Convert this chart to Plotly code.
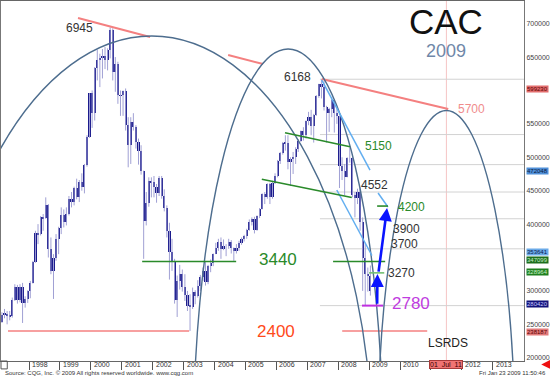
import plotly.graph_objects as go

# ---------------- data (monthly CAC 40) ----------------
start_year, start_month = 1997, 2
opens = [2540, 2640, 2655, 2630, 2620, 2870, 3060, 2860, 3060, 2820, 2880,
         2999, 3120, 3430, 3870, 3850, 4100, 4090, 4280, 3620, 3300, 3500, 3780,
         3942, 4130, 4030, 4150, 4380, 4330, 4540, 4410, 4630, 4560, 4880, 5300,
         5958, 5660, 6330, 6460, 6480, 6520, 6450, 6600, 6910, 6270, 6400, 5930,
         5926, 5990, 5480, 5180, 5530, 5460, 5230, 5090, 4800, 4050, 4310, 4650,
         4624, 4560, 4460, 4690, 4420, 4240, 3900, 3580, 3440, 2860, 3150, 3260,
         3064, 2940, 2780, 2760, 2990, 2920, 3080, 3210, 3300, 3140, 3380, 3420,
         3558, 3640, 3730, 3630, 3670, 3670, 3730, 3640, 3600, 3640, 3710, 3780,
         3821, 3910, 4030, 4070, 3910, 4120, 4230, 4450, 4400, 4600, 4400, 4620,
         4715, 4950, 5070, 5220, 5210, 4930, 4970, 5010, 5130, 5250, 5400, 5330,
         5542, 5610, 5470, 5630, 5920, 6100, 6050, 5750, 5660, 5720, 5850, 5670,
         5614, 4870, 4790, 4710, 4990, 4990, 4430, 4390, 4480, 4030, 3490, 3260,
         3218]
highs = [2680, 2730, 2700, 2700, 2900, 3100, 3090, 3100, 3120, 2920, 3010,
         3150, 3450, 3900, 4000, 4120, 4150, 4400, 4300, 3800, 3550, 3850, 3960,
         4250, 4220, 4250, 4420, 4480, 4560, 4680, 4660, 4760, 4900, 5330, 5960,
         6000, 6350, 6610, 6550, 6620, 6650, 6630, 6945, 6930, 6500, 6430, 6000,
         6000, 6030, 5600, 5600, 5660, 5480, 5280, 5180, 4800, 4480, 4700, 4700,
         4720, 4600, 4720, 4720, 4520, 4280, 4020, 3780, 3480, 3230, 3390, 3320,
         3250, 3000, 2950, 3050, 3010, 3160, 3240, 3350, 3440, 3390, 3470, 3560,
         3720, 3780, 3800, 3770, 3700, 3780, 3760, 3650, 3700, 3750, 3800, 3840,
         3930, 4070, 4100, 4110, 4130, 4240, 4460, 4480, 4610, 4620, 4650, 4760,
         4960, 5080, 5230, 5330, 5330, 5000, 5080, 5150, 5270, 5400, 5450, 5550,
         5680, 5710, 5650, 5930, 6100, 6168, 6140, 5770, 5740, 5900, 5870, 5720,
         5620, 5000, 4900, 5000, 5140, 5000, 4480, 4530, 4550, 4100, 3720, 3350,
         3380]
lows = [2520, 2590, 2500, 2560, 2600, 2850, 2810, 2830, 2520, 2750, 2820,
        2890, 3110, 3420, 3700, 3830, 3900, 4080, 3500, 3250, 2880, 3450, 3550,
        3850, 3950, 3980, 4130, 4250, 4280, 4370, 4330, 4500, 4460, 4860, 5290,
        5440, 5550, 6150, 6050, 6180, 6320, 6300, 6480, 6150, 5980, 5800, 5620,
        5620, 5400, 4850, 4900, 5400, 5130, 4890, 4740, 3480, 3980, 4260, 4400,
        4400, 4320, 4420, 4380, 4190, 3800, 3170, 3300, 2810, 2610, 3020, 2990,
        2850, 2700, 2401, 2730, 2800, 2900, 3000, 3150, 3080, 3100, 3280, 3370,
        3550, 3600, 3480, 3610, 3520, 3630, 3560, 3450, 3560, 3600, 3690, 3740,
        3780, 3900, 3980, 3860, 3900, 4090, 4220, 4300, 4380, 4300, 4380, 4600,
        4700, 4900, 5040, 5100, 4820, 4570, 4750, 4900, 5080, 5230, 5250, 5280,
        5480, 5330, 5220, 5620, 5890, 5880, 5700, 5220, 5380, 5600, 5370, 5500,
        4540, 4660, 4430, 4700, 4920, 4400, 4100, 4300, 3900, 3000, 2780, 2990,
        2930]
closes = [2640, 2655, 2630, 2620, 2870, 3060, 2860, 3060, 2820, 2880, 2999,
          3120, 3430, 3870, 3850, 4100, 4090, 4280, 3620, 3300, 3500, 3780, 3942,
          4130, 4030, 4150, 4380, 4330, 4540, 4410, 4630, 4560, 4880, 5300, 5958,
          5660, 6330, 6460, 6480, 6520, 6450, 6600, 6910, 6270, 6400, 5930, 5926,
          5990, 5480, 5180, 5530, 5460, 5230, 5090, 4800, 4050, 4310, 4650, 4624,
          4560, 4460, 4690, 4420, 4240, 3900, 3580, 3440, 2860, 3150, 3260, 3064,
          2940, 2780, 2760, 2990, 2920, 3080, 3210, 3300, 3140, 3380, 3420, 3558,
          3640, 3730, 3630, 3670, 3670, 3730, 3640, 3600, 3640, 3710, 3780, 3821,
          3910, 4030, 4070, 3910, 4120, 4230, 4450, 4400, 4600, 4400, 4620, 4715,
          4950, 5070, 5220, 5210, 4930, 4970, 5010, 5130, 5250, 5400, 5330, 5542,
          5610, 5470, 5630, 5920, 6100, 6050, 5750, 5660, 5720, 5850, 5670, 5614,
          4870, 4790, 4710, 4990, 4990, 4430, 4390, 4480, 4030, 3490, 3260, 3218,
          3000]

years = list(range(1998, 2014))
year_labels = [str(y) for y in years]

# cycle arcs: centre (decimal year), half width (years), top price, base price
arc_center = [2001.97, 2006.38, 2011.50]
arc_halfwidth = [7.12, 3.07, 2.22]
arc_peak = [6815, 6620, 5700]
arc_base = [649, 619, 630]

# trend lines (t0, p0, t1, p1)
red_lines = [(1999.585, 7084, 2001.915, 6800), (2004.44, 6530, 2005.57, 6396),
             (2007.47, 6171, 2011.56, 5722)]
blue_lines = [(2007.47, 6156, 2009.03, 4809), (2009.29, 4465, 2009.61, 4256),
              (2007.955, 4510, 2009.09, 3530)]
green_lines = [(2006.28, 5368, 2008.385, 5158), (2005.53, 4670, 2008.44, 4398),
               (2001.66, 3440, 2004.70, 3440), (2007.835, 3440, 2009.52, 3440),
               (2009.26, 4270, 2009.61, 4270)]
light_green_lines = [(2009.0, 3270, 2009.49, 3270)]
purple_lines = [(2008.77, 2780, 2009.45, 2780)]
salmon_flat = [(1997.32, 2400, 2003.18, 2400), (2008.13, 2400, 2010.88, 2400)]
fib_levels = [6168, 5340, 4890, 4480, 4080, 3630, 2780]
fib_start = 2007.41
cycle_date = 2011.50

# arrows (tail t, tail p, head t, head p)
arrows = [(2009.26, 2785, 2009.27, 3253), (2009.30, 3265, 2009.58, 4240)]

# price labels (text, t, p, colour, size)
labels = [("6945", 1999.62, 6935, "#333333", 12),
          ("6168", 2006.70, 6200, "#333333", 12),
          ("4552", 2009.19, 4585, "#333333", 12),
          ("3900", 2010.20, 3930, "#333333", 12),
          ("3700", 2010.13, 3705, "#333333", 12),
          ("3270", 2010.04, 3270, "#333333", 12),
          ("LSRDS", 2011.56, 2222, "#222222", 12),
          ("5150", 2009.29, 5170, "#2a8a2a", 12),
          ("4200", 2010.36, 4256, "#2a8a2a", 12),
          ("3440", 2006.06, 3477, "#2a8a2a", 17),
          ("2400", 2005.99, 2400, "#ff4a1a", 17),
          ("2780", 2010.36, 2805, "#c03ce0", 17),
          ("5700", 2012.30, 5722, "#f08c8c", 12)]

# right-hand value markers
marker_vals = [6020, 4800, 3575, 3462, 3290, 2804, 2382]
marker_text = ["599230", "472048", "353641", "347099", "328964", "280420", "238187"]
marker_bg = ["#e26d6d", "#4f8fd8", "#6aaae8", "#1d6e1d", "#1f7f1f", "#12127a", "#e27a7a"]
marker_fg = ["#5a0000", "#0a1a40", "#0a1a50", "#c8f0c8", "#c8f0c8", "#c8c8ff", "#5a0000"]

y_ticks = [2000, 2500, 3000, 4000, 4500, 5000, 5500, 6500, 7000]

# ---------------- figure ----------------
months = []
yy, mm = start_year, start_month
for _ in range(len(closes)):
    months.append((yy, mm))
    mm += 1
    if mm > 12:
        mm = 1
        yy += 1
t = [a + (b - 0.5) / 12 for a, b in months]

XR = [1997.094, 2014.01]
YR = [1951, 7339]

fig = go.Figure()
wx, wy = [], []
for ti, h, l in zip(t, highs, lows):
    wx += [ti, ti, None]
    wy += [l, h, None]
fig.add_trace(go.Scatter(x=wx, y=wy, mode="lines", line=dict(color="#a0a0d4", width=1),
                         hoverinfo="skip", showlegend=False))
fig.add_trace(go.Bar(x=t, base=[min(o, c) for o, c in zip(opens, closes)],
                     y=[abs(c - o) for o, c in zip(opens, closes)], width=0.07,
                     marker=dict(color="#1b1b8c", line=dict(width=0)),
                     hoverinfo="skip", showlegend=False))

shapes = []
for lv in fib_levels:
    shapes.append(dict(type="line", xref="x", yref="y", x0=fib_start, x1=XR[1], y0=lv, y1=lv,
                       line=dict(color="#d2d2d2", width=1), layer="below"))
shapes.append(dict(type="line", xref="x", yref="paper", x0=cycle_date, x1=cycle_date, y0=0, y1=1,
                   line=dict(color="#f5c4c4", width=1), layer="below"))

def seg(lst, color, width):
    for t0, p0, t1, p1 in lst:
        shapes.append(dict(type="line", xref="x", yref="y", x0=t0, y0=p0, x1=t1, y1=p1,
                           line=dict(color=color, width=width), layer="above"))

seg(salmon_flat, "#f48080", 1.6)
seg(red_lines, "#f48080", 2)
for c, a, pk, b in zip(arc_center, arc_halfwidth, arc_peak, arc_base):
    shapes.append(dict(type="circle", xref="x", yref="y", x0=c - a, x1=c + a,
                       y0=b - (pk - b), y1=pk, line=dict(color="#4d6d8e", width=1.4),
                       layer="above"))
seg(blue_lines, "#62aef0", 1.5)
seg(green_lines, "#2a8a2a", 1.6)
seg(light_green_lines, "#72c072", 1.6)
seg(purple_lines, "#c030e0", 2)

# small box at left end of the time axis
shapes.append(dict(type="rect", xref="paper", yref="paper", x0=0, x1=0.012, y0=-0.022, y1=0,
                   line=dict(color="#555555", width=1)))

ann = []
for txt, tx, py, col, sz in labels:
    ann.append(dict(x=tx, y=py, xref="x", yref="y", text=txt, showarrow=False,
                    xanchor="center", yanchor="middle", font=dict(color=col, size=sz)))
for t0, p0, t1, p1 in arrows:
    ann.append(dict(x=t1, y=p1, ax=t0, ay=p0, xref="x", yref="y", axref="x", ayref="y",
                    text="", showarrow=True, arrowhead=2, arrowsize=1, arrowwidth=2.6,
                    arrowcolor="#0a14ff", standoff=0, startstandoff=0))
for v, txt, bg, fg in zip(marker_vals, marker_text, marker_bg, marker_fg):
    ann.append(dict(x=1, y=v, xref="paper", yref="y", xanchor="left", yanchor="middle", xshift=2,
                    text=txt, showarrow=False, bgcolor=bg, borderpad=0,
                    font=dict(color=fg, size=6)))
for yv, lab in zip(years, year_labels):
    if yv == 2011:
        continue
    ann.append(dict(x=yv, y=-0.0097, xref="x", yref="paper", xanchor="left", xshift=1,
                    yanchor="middle", text=lab, showarrow=False,
                    font=dict(color="#333333", size=7)))
ann.append(dict(x=cycle_date, y=-0.0105, xref="x", yref="paper", xanchor="center",
                yanchor="middle", text="01  Jul  11", showarrow=False, bgcolor="#f07474",
                bordercolor="#a83a3a", borderwidth=1, borderpad=0,
                font=dict(color="#3a0000", size=7)))
ann.append(dict(x=0.851, y=0.944, xref="paper", yref="paper", xanchor="center", yanchor="middle",
                text="CAC", showarrow=False, borderpad=0, font=dict(color="#111111", size=35)))
ann.append(dict(x=0.851, y=0.861, xref="paper", yref="paper", xanchor="center", yanchor="middle",
                text="2009", showarrow=False, borderpad=0, font=dict(color="#6f87a8", size=18)))
ann.append(dict(x=0.004, y=-0.0347, xref="paper", yref="paper", xanchor="left", yanchor="middle",
                text="Source: CQG, Inc. \u00a9 2009 All rights reserved worldwide. www.cqg.com",
                showarrow=False, font=dict(color="#333333", size=6)))
ann.append(dict(x=1.046, y=-0.0347, xref="paper", yref="paper", xanchor="right", yanchor="middle",
                text="Fri Jan 23 2009 11:50:46", showarrow=False,
                font=dict(color="#333333", size=6)))
ann.append(dict(x=1.033, y=-0.0097, xref="paper", yref="paper", text="", showarrow=True,
                ax=9, ay=0, arrowhead=2, arrowsize=0.8, arrowwidth=3, arrowcolor="#ee1111",
                standoff=0))

fig.update_layout(
    width=550, height=377,
    margin=dict(l=1, r=26, t=1, b=16, autoexpand=False),
    paper_bgcolor="white", plot_bgcolor="white",
    font=dict(family="Liberation Sans, Arial, sans-serif"),
    showlegend=False, bargap=0,
    shapes=shapes, annotations=ann,
    xaxis=dict(range=XR, tickvals=years, showticklabels=False, ticks="outside", ticklen=8,
               tickcolor="#555555", showline=True, linecolor="#666666", mirror=True,
               showgrid=False, zeroline=False, fixedrange=True, automargin=False),
    yaxis=dict(range=YR, side="right", tickvals=y_ticks,
               ticktext=[f"{v}00" for v in y_ticks], showline=True, linecolor="#777777",
               mirror=True, showgrid=False, zeroline=False, ticks="", ticklen=0,
               tickfont=dict(size=7, color="#444444"), fixedrange=True, automargin=False),
)

fig.write_html("out.html", config={"displayModeBar": False},
               post_script="document.body.style.margin='0px';document.body.style.overflow='hidden';")
